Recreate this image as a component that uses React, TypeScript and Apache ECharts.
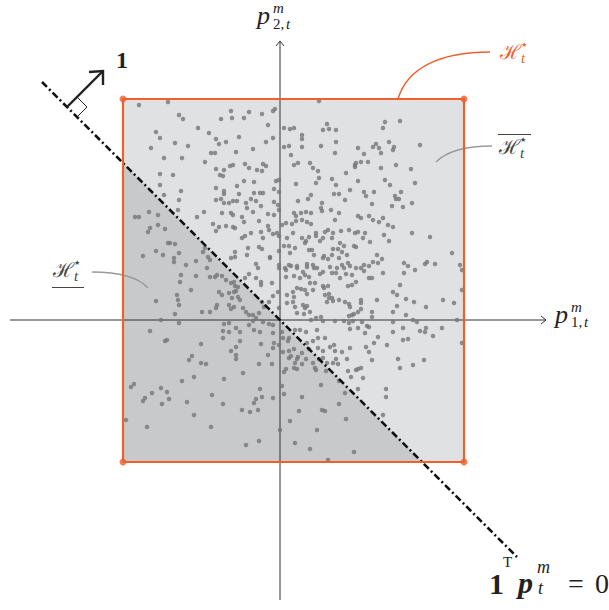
import React, { useEffect, useRef } from "react";
import * as echarts from "echarts";

// Sampled price vectors (p1, p2) around the origin of the price plane.
const samples: [number, number][] = [
  [-141, 215], [-112, 218], [-101, 205], [-97, 201], [-49, 209], [-31, 208], [-48, 202], [-59, 201],
  [-36, 202], [-18, 206], [-7, 209], [-5, 211], [-12, 195], [4, 192], [10, 191], [14, 192],
  [-82, 192], [-71, 187], [-124, 188], [-120, 182], [-105, 177], [-92, 174], [-129, 172], [-64, 181],
  [-61, 176], [-54, 178], [-41, 183], [-14, 178], [-7, 182], [4, 173], [9, 174], [-27, 171],
  [-44, 168], [-69, 167], [-65, 167], [-116, 162], [-98, 162], [11, 165], [-75, 158], [-50, 154],
  [-47, 155], [-35, 156], [-31, 152], [-17, 156], [-14, 154], [-23, 150], [-18, 149], [-64, 151],
  [-56, 150], [-60, 145], [-57, 144], [14, 155], [-120, 146], [-107, 145], [-120, 135], [-36, 139],
  [-26, 138], [-4, 139], [-1, 140], [-43, 134], [-64, 132], [-6, 131], [-99, 129], [-56, 129],
  [-56, 126], [-41, 126], [-26, 127], [-20, 127], [-17, 127], [-1, 128], [-116, 125], [-64, 120],
  [-59, 121], [-56, 117], [-51, 117], [-47, 119], [-43, 119], [-34, 117], [-29, 121], [-24, 119],
  [-101, 120], [-6, 118], [-2, 115], [-33, 112], [-19, 114], [-1, 110], [-145, 103], [-141, 103],
  [-131, 108], [-122, 105], [-102, 110], [-76, 108], [-58, 107], [-49, 107], [-47, 105], [-83, 103],
  [-38, 103], [-27, 108], [-12, 106], [-6, 105], [14, 107],
  [39, 219], [105, 198], [120, 199], [103, 192], [47, 196], [43, 190], [49, 191], [56, 190],
  [22, 185], [22, 181], [22, 173], [41, 174], [56, 178], [55, 167], [78, 172], [84, 166],
  [93, 173], [96, 176], [99, 172], [101, 167], [109, 178], [114, 173], [113, 170], [140, 175],
  [18, 157], [30, 157], [33, 152], [38, 149], [75, 155], [76, 157], [75, 153], [81, 158],
  [88, 158], [101, 152], [116, 155], [131, 151], [66, 147], [39, 142], [36, 137], [16, 136],
  [52, 141], [56, 135], [78, 139], [105, 140], [110, 135], [135, 137], [70, 130], [54, 126],
  [59, 126], [31, 125], [28, 121], [18, 119], [65, 120], [84, 128], [86, 124], [94, 128],
  [115, 124], [116, 121], [119, 121], [121, 128], [92, 116], [112, 114], [123, 113], [132, 117],
  [42, 117], [41, 112], [42, 109], [51, 110], [59, 107], [21, 107], [26, 108], [31, 107],
  [78, 104], [81, 102], [89, 104], [103, 102], [16, 104],
  [-130, 92], [-132, 88], [-122, 95], [-115, 91], [-112, 77], [-110, 77], [-105, 76], [-124, 69],
  [-117, 65], [-137, 64], [-106, 62], [-106, 58], [-101, 67], [-94, 55], [-84, 59], [-99, 45],
  [-84, 44], [-100, 38], [-89, 30], [-103, 25], [-124, 19], [-102, 20], [-101, 15], [-105, 6],
  [-119, 0], [-101, -3], [-130, -11],
  [-67, 96], [-61, 93], [-64, 89], [-54, 94], [-47, 93], [-45, 92], [-36, 98], [-29, 87],
  [-38, 82], [-35, 84], [-19, 88], [-12, 94], [-21, 99], [-11, 90], [-7, 86], [-3, 87],
  [2, 95], [6, 97], [12, 96], [13, 87], [7, 82], [-1, 84], [-21, 73], [-18, 71],
  [-17, 82], [-32, 72], [-45, 68], [-49, 62], [-45, 63], [-33, 65], [-24, 56], [-22, 52],
  [-10, 63], [-10, 62], [-1, 55], [-1, 52], [5, 52], [9, 55], [11, 54], [10, 67],
  [4, 74], [9, 74], [-1, 69], [-35, 42], [-31, 46], [-24, 42], [-19, 38], [-19, 35],
  [-8, 37], [6, 43], [14, 44], [6, 50], [-7, 24], [-2, 28], [7, 25], [13, 28],
  [-11, 18], [7, 17], [-1, 12],
  [-75, 72], [-77, 68], [-72, 63], [-70, 60], [-73, 52], [-65, 43], [-70, 43], [-63, 45],
  [-58, 44], [-54, 40], [-49, 37], [-46, 38], [-45, 34], [-42, 33], [-46, 28], [-44, 29],
  [-51, 27], [-61, 28], [-58, 25], [-48, 22], [-42, 23], [-40, 20], [-51, 15], [-49, 11],
  [-46, 13], [-63, 15], [-64, 12], [-70, 8], [-78, 8], [-37, 12], [-34, 8], [-31, 5],
  [-27, 5], [-21, 7], [-16, 13], [-18, 18], [-24, 2], [-17, -2], [-11, -4], [-7, -5],
  [-56, -4], [-51, -3], [-57, -11], [-51, -12], [-44, -8], [-40, -12], [-31, -5], [-27, -1],
  [-26, -10], [-20, -12], [-7, -13], [2, -12], [3, -18], [9, -18], [-57, -18],
  [16, 99], [22, 100], [27, 98], [31, 96], [55, 100], [93, 100], [99, 98], [108, 95],
  [113, 93], [22, 82], [26, 79], [29, 83], [36, 87], [36, 84], [40, 79], [43, 82],
  [45, 88], [48, 90], [53, 87], [52, 82], [61, 89], [60, 77], [69, 90], [75, 87],
  [78, 88], [85, 87], [83, 82], [90, 78], [104, 85], [109, 79], [132, 87], [150, 83],
  [15, 72], [25, 77], [29, 70], [32, 70], [34, 65], [44, 64], [43, 62], [48, 61],
  [52, 65], [53, 71], [58, 71], [62, 68], [64, 74], [67, 65], [59, 62], [76, 73],
  [74, 74], [97, 65], [102, 61], [98, 57], [93, 58], [89, 54], [84, 55], [81, 52],
  [76, 52], [70, 54], [68, 57], [64, 52], [62, 55], [57, 52], [50, 53], [52, 47],
  [56, 47], [60, 42], [66, 46], [72, 45], [84, 49], [89, 42], [92, 42], [103, 47],
  [43, 48], [40, 46], [37, 52], [34, 52], [33, 55], [27, 56], [27, 53], [17, 54],
  [17, 52], [23, 48], [25, 45], [20, 42], [29, 43], [30, 37], [35, 37], [43, 34],
  [44, 32], [48, 34], [68, 34], [72, 35], [76, 38], [17, 32], [21, 31], [25, 30],
  [27, 26], [33, 30], [45, 25], [49, 26], [52, 22], [53, 19], [59, 20], [65, 18],
  [69, 16], [70, 13], [81, 20], [81, 17], [97, 20], [113, 28], [117, 25], [120, 35],
  [124, 57], [128, 54], [124, 47], [135, 50], [145, 56], [147, 58], [155, 56], [172, 67],
  [180, 55], [182, 50], [182, 30], [126, 21], [134, 18], [117, 14], [113, 8], [126, 5],
  [146, 13], [163, 20], [174, 17], [14, 23], [13, 18], [15, 13], [23, 15], [25, 12],
  [27, 14], [30, 8], [24, 6], [17, 7], [41, 3], [43, -1], [36, 2], [31, 0],
  [47, 18], [49, 22], [55, -1], [64, -1], [69, 4], [72, 5], [74, 6], [78, 8],
  [81, 11], [92, 8], [92, 3], [69, -3], [73, -1], [82, -2], [87, -6], [89, -7],
  [78, -8], [70, -9], [85, -13], [98, -17], [113, -2], [133, 0], [137, -2], [140, -11],
  [146, -8], [145, -12], [153, -16], [162, -8], [177, 0], [113, -12], [123, -8], [128, -19],
  [37, -10], [38, -18], [45, -18], [26, -12], [20, -10], [15, -10],
  [-115, -21], [-113, -20], [-79, -24], [-40, -21], [-44, -27], [-49, -31], [-44, -35], [-44, -39],
  [-19, -24], [-6, -23], [-7, -28], [-1, -25], [3, -32], [-88, -36], [-91, -40], [-79, -43],
  [-74, -44], [-12, -35], [-21, -44], [-8, -44], [-37, -53], [-56, -59], [-86, -57], [-98, -61],
  [-146, -64], [-149, -67], [-119, -68], [-113, -72], [-128, -73], [-135, -78], [-137, -81], [-111, -79],
  [-118, -84], [-93, -82], [-68, -75], [-57, -84], [-20, -69], [-18, -77], [-24, -79], [-26, -83],
  [-7, -78], [2, -66], [4, -74], [-38, -90], [-30, -92], [-22, -90], [-86, -95], [-154, -100],
  [-133, -107], [-69, -107], [0, -110], [10, -101], [-34, -125], [-21, -121], [15, -123], [4, -52],
  [6, -49], [9, -38], [11, -36], [9, -31], [14, -29], [14, -48], [8, -21],
  [27, -23], [33, -21], [29, -29], [22, -33], [18, -37], [17, -39], [26, -39], [15, -43],
  [17, -49], [22, -44], [33, -43], [35, -48], [36, -50], [39, -39], [43, -38], [47, -43],
  [46, -51], [38, -28], [43, -31], [50, -27], [54, -25], [55, -31], [62, -32], [56, -39],
  [53, -43], [58, -44], [70, -28], [67, -39], [86, -27], [89, -32], [92, -40], [94, -23],
  [107, -25], [123, -20], [118, -39], [120, -48], [133, -45], [144, -40], [182, -23], [68, -51],
  [71, -57], [76, -50], [78, -49], [81, -48], [83, -58], [59, -61], [41, -65], [78, -69],
  [65, -73], [106, -69], [106, -77], [22, -77], [59, -84], [42, -90], [45, -91], [19, -91],
  [66, -99], [103, -95], [37, -110], [30, -129], [74, -132], [48, -140],
];

// Box of admissible prices and the hyperplane 1ᵀp = 0.
const squareX = [-157, 184];
const squareY = [-142, 221];
const boundaryEnds: [number, number][] = [[-238, 238], [237, -237]];
const p1AxisRange = [-270, 266];
const p2AxisRange = [-280, 279];
const normalArrow: [number, number][] = [[-213, 213], [-177, 249]];

const ORANGE = "#f0602e";
const INK = "#222222";
const AXIS = "#333333";
const LABEL_GREY = "#444444";
const GREY_LEADER = "#9a9a9a";
const LIGHT_FILL = "#e0e1e3";
const DARK_FILL = "#c8c9cb";
const DOT = "#777777";
const SERIF = "Liberation Serif";
const SCRIPT = "DejaVu Serif";
const SYMBOLS = "DejaVu Sans";

const [x0, x1] = squareX;
const [y0, y1] = squareY;
const squareCorners: [number, number][] = [[x0, y0], [x1, y0], [x1, y1], [x0, y1]];
// Part of the box where p1 + p2 <= 0
const halfSpace: [number, number][] = [[x0, -x0], [x0, y0], [-y0, y0]];
const regions = [
  { pts: squareCorners, fill: LIGHT_FILL },
  { pts: halfSpace, fill: DARK_FILL },
];

const leaderCurves = [
  { pts: [[118, 221], [127, 252], [160, 268], [210, 268]], color: ORANGE, width: 1.5 },
  { pts: [[156, 158], [168, 170], [188, 174], [212, 174]], color: GREY_LEADER, width: 1.3 },
  { pts: [[-188, 48], [-160, 48], [-142, 43], [-132, 32]], color: GREY_LEADER, width: 1.3 },
];

function polyline(pts: number[][], color: string, width: number, z: number, type: any = "solid") {
  return {
    type: "line",
    data: pts,
    symbol: "none",
    silent: true,
    z,
    lineStyle: { color, width, type, cap: "butt", join: "miter" },
  };
}

function tx(x: number, y: number, text: string, size: number, opt: any = {}) {
  return {
    type: "text",
    x,
    y,
    silent: true,
    z: 100,
    style: {
      text,
      fontSize: size,
      fontFamily: opt.family || SERIF,
      fontStyle: opt.italic ? "italic" : "normal",
      fontWeight: opt.bold ? "bold" : "normal",
      fill: opt.color || INK,
      align: "left",
      verticalAlign: "middle",
    },
  };
}

function hline(xa: number, xb: number, y: number, color: string) {
  return {
    type: "line",
    silent: true,
    z: 100,
    shape: { x1: xa, y1: y, x2: xb, y2: y },
    style: { stroke: color, lineWidth: 1 },
  };
}

// calligraphic H with star superscript and t subscript
function hStar(x: number, y: number, color: string) {
  return [
    tx(x, y, "ℋ", 20, { family: SCRIPT, color }),
    tx(x + 21, y - 7, "★", 7, { family: SYMBOLS, color }),
    tx(x + 21, y + 6, "t", 15, { italic: true, color }),
  ];
}

export default function App() {
  const ref = useRef<HTMLDivElement>(null);

  useEffect(() => {
    if (!ref.current) return;
    const chart = echarts.init(ref.current, null, { renderer: "svg" });
    const [ax, ay] = [p1AxisRange, p2AxisRange];
    const [tail, tip] = normalArrow;

    chart.setOption({
      animation: false,
      backgroundColor: "#ffffff",
      grid: { left: 0, right: 0, top: 0, bottom: 0 },
      xAxis: { type: "value", min: -280, max: 329, show: false },
      yAxis: { type: "value", min: -290, max: 320, show: false },
      series: [
        {
          type: "custom",
          silent: true,
          z: 1,
          clip: false,
          data: regions.map((r) => r.pts[0]),
          renderItem: (params: any, api: any) => {
            const r = regions[params.dataIndex];
            return {
              type: "polygon",
              shape: { points: r.pts.map((p) => api.coord(p)) },
              style: { fill: r.fill, stroke: "none" },
            };
          },
        },
        // coordinate axes with small arrow heads
        polyline([[ax[0], 0], [ax[1], 0]], AXIS, 1, 2),
        polyline([[ax[1] - 5, 4], [ax[1], 0], [ax[1] - 5, -4]], AXIS, 1, 2),
        polyline([[0, ay[0]], [0, ay[1]]], AXIS, 1, 2),
        polyline([[-4, ay[1] - 5], [0, ay[1]], [4, ay[1] - 5]], AXIS, 1, 2),
        {
          type: "scatter",
          data: samples,
          symbol: "circle",
          symbolSize: 4.5,
          silent: true,
          z: 3,
          itemStyle: { color: DOT },
        },
        {
          type: "custom",
          silent: true,
          z: 4,
          clip: false,
          data: leaderCurves.map((c) => c.pts[0]),
          renderItem: (params: any, api: any) => {
            const c = leaderCurves[params.dataIndex];
            const [a, b, d, e] = c.pts.map((p) => api.coord(p));
            return {
              type: "bezierCurve",
              shape: { x1: a[0], y1: a[1], cpx1: b[0], cpy1: b[1], cpx2: d[0], cpy2: d[1], x2: e[0], y2: e[1] },
              style: { stroke: c.color, lineWidth: c.width, fill: "none" },
            };
          },
        },
        // hyperplane 1ᵀp = 0
        polyline(boundaryEnds, "#111111", 2.6, 5, [7, 3, 2, 3]),
        // normal vector 1 with right-angle mark
        polyline(normalArrow, INK, 2.4, 5),
        polyline([[tip[0] - 14, tip[1] - 1], [tip[0], tip[1]], [tip[0], tip[1] - 14]], INK, 2.4, 5),
        polyline([[tail[0] + 10, tail[1] + 10], [tail[0] + 20, tail[1]], [tail[0] + 10, tail[1] - 10]], INK, 1, 5),
        // box boundary
        polyline([...squareCorners, squareCorners[0]], ORANGE, 2.2, 6),
        {
          type: "scatter",
          data: squareCorners,
          symbol: "circle",
          symbolSize: 7,
          silent: true,
          z: 7,
          itemStyle: { color: ORANGE },
        },
      ],
      graphic: [
        // p^m_{2,t}
        tx(257, 15, "p", 26, { italic: true }),
        tx(273, 8, "m", 15, { italic: true }),
        tx(273, 23.5, "2,", 15),
        tx(286, 23.5, "t", 15, { italic: true }),
        // p^m_{1,t}
        tx(555, 314, "p", 26, { italic: true }),
        tx(571, 306.5, "m", 15, { italic: true }),
        tx(571, 322, "1,", 15),
        tx(584, 322, "t", 15, { italic: true }),
        // H_t^* labels: box, its upper part, its lower part
        ...hStar(500, 52, ORANGE),
        ...hStar(499, 147, LABEL_GREY),
        hline(498, 531, 134.5, LABEL_GREY),
        ...hStar(53, 270, LABEL_GREY),
        hline(52, 84, 287.5, LABEL_GREY),
        // normal vector label
        tx(116, 60, "1", 24, { bold: true }),
        // 1ᵀ p_t^m = 0
        tx(489, 583, "1", 30, { bold: true }),
        tx(503, 562, "T", 15),
        tx(518, 582, "p", 30, { bold: true, italic: true }),
        tx(537, 567, "m", 18, { italic: true }),
        tx(538, 588, "t", 18, { italic: true }),
        tx(568, 583, "=", 28),
        tx(595, 583, "0", 28),
      ],
    });

    return () => chart.dispose();
  }, []);

  return (
    <div
      ref={ref}
      style={{ position: "fixed", left: 0, top: 0, width: 609, height: 610, background: "#fff" }}
    />
  );
}
